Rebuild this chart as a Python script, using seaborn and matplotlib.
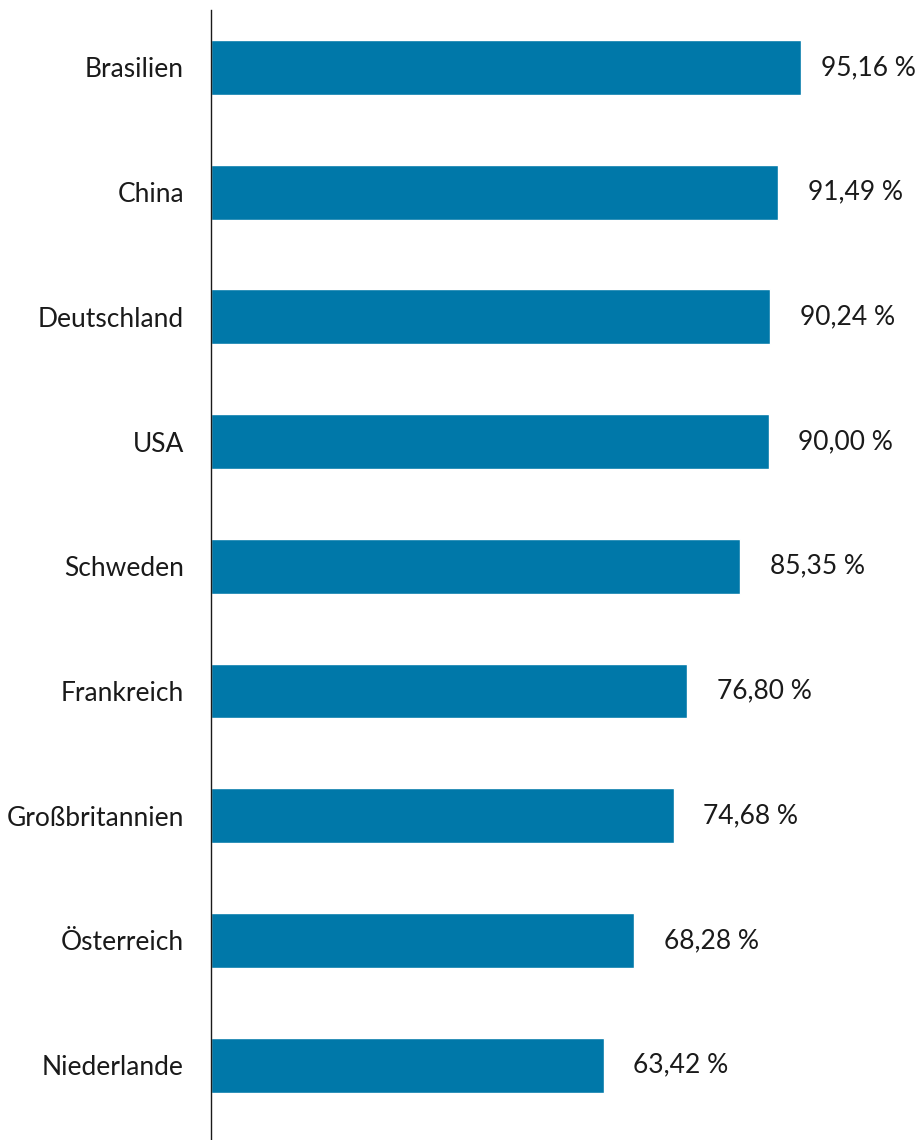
import matplotlib
matplotlib.use("Agg")
import matplotlib.pyplot as plt
import pandas as pd
import seaborn as sns

# ------------------------------------------------------------------ #
countries = ["Brasilien", "China", "Deutschland", "USA", "Schweden",
             "Frankreich", "Großbritannien", "Österreich", "Niederlande"]
shares = [95.16, 91.49, 90.24, 90.00, 85.35, 76.80, 74.68, 68.28, 63.42]
BAR_COLOR = "#0078A9"
TXT = "#1A1A1A"
# ------------------------------------------------------------------ #

sns.set_style("white")
plt.rcParams["font.family"] = ["Lato", "DejaVu Sans"]

df = pd.DataFrame({"land": countries, "anteil": shares})

fig = plt.figure(figsize=(9.19, 11.40), dpi=100)
ax = fig.add_axes([211 / 919, 0, 1 - 211 / 919, 1130 / 1140])

sns.barplot(data=df, y="land", x="anteil", orient="h", color=BAR_COLOR,
            width=0.44, saturation=1, ax=ax)

# Werte rechts neben den Balken, zentriert, am rechten Rand begrenzt
for i, v in enumerate(shares):
    xc = min(v + 12.4, 106.0)
    ax.text(xc, i, f"{v:.2f} %".replace(".", ","), va="center",
            ha="center", fontsize=19, color=TXT)

ax.set_xlim(0, 114.2)
ax.set_ylim(8.60, -0.46)
ax.set_xlabel("")
ax.set_ylabel("")
ax.set_xticks([])
ax.tick_params(axis="y", length=0, pad=19.5, labelsize=19,
               labelcolor=TXT)
for s in ["top", "right", "bottom"]:
    ax.spines[s].set_visible(False)
ax.spines["left"].set_color(TXT)
ax.spines["left"].set_linewidth(1.0)

fig.savefig("out.png", dpi=100)
